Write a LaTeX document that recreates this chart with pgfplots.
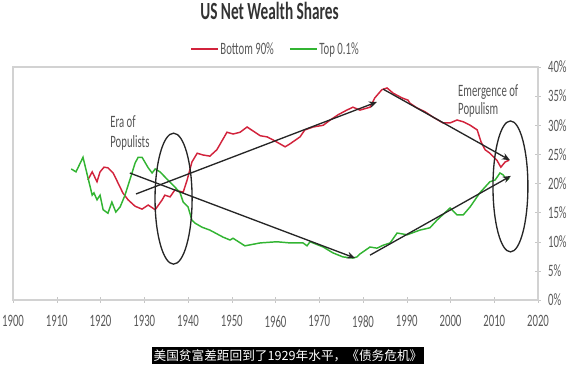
\documentclass[border=0pt]{standalone}
\usepackage{fontspec}
\setmainfont{Carlito}[FakeStretch=0.62]
\newfontfamily\cjk{Noto Sans CJK SC}
\usepackage{pgfplots}
\pgfplotsset{compat=1.18}
\usetikzlibrary{calc,arrows.meta}
\definecolor{lred}{RGB}{210,35,60}
\definecolor{lgreen}{RGB}{50,180,50}
\definecolor{annot}{RGB}{85,85,85}
\definecolor{tcol}{RGB}{89,89,89}
\begin{document}
\begin{tikzpicture}
\begin{axis}[
  name=ax, scale only axis, width=393.75pt, height=174.75pt,
  xmin=1900, xmax=2020, ymin=0, ymax=40,
  xtick={1900,1910,...,2020}, ytick={0,5,...,40},
  xtick pos=bottom, ytick pos=right, yticklabel pos=right,
  axis line style={draw=gray!35, line width=0.8pt},
  tick style={draw=gray!45}, tick align=center, major tick length=4pt,
  /pgf/number format/assume math mode=true,
  /pgf/number format/1000 sep={},
  ticklabel style={font=\fontsize{13}{13}\selectfont, text=tcol},
  yticklabel={\pgfmathprintnumber{\tick}\%},
  xticklabel style={yshift=-6pt},
  yticklabel style={xshift=2pt},
  title={US Net Wealth Shares},
  title style={font=\bfseries\fontsize{18.5}{18.5}\selectfont, text=black!80, at={(0.5,1)}, anchor=center, yshift=36pt, xshift=-4.5pt},
  legend columns=2,
  legend style={at={(0.5,1)}, anchor=south, yshift=4pt, draw=none, fill=none,
    font=\fontsize{13}{13}\selectfont, text=tcol, nodes={inner xsep=1.5pt},
    /tikz/every even column/.append style={column sep=10pt}},
  legend image code/.code={\draw[#1] (0pt,0pt) -- (20pt,0pt);},
  clip=false,
]
\addplot[lred, line width=1.1pt] coordinates {
(1917.1,20.6)(1918.1,22.0)(1919.2,20.3)(1919.9,22.0)(1920.8,22.8)(1921.7,22.7)(1922.9,21.8)(1924.0,20.1)(1925.1,18.4)(1926.3,17.2)(1927.9,16.1)(1929.5,15.6)(1930.9,16.3)(1932.5,15.5)(1934.1,17.2)(1934.7,18.0)(1935.9,17.7)(1937.0,18.9)(1938.9,18.5)(1939.8,20.6)(1940.9,23.7)(1942.1,25.2)(1943.4,24.9)(1945.0,24.7)(1946.6,25.8)(1948.9,28.8)(1950.3,28.5)(1951.9,28.8)(1953.5,29.7)(1954.9,29.0)(1956.5,28.2)(1958.1,28.0)(1959.4,27.5)(1962.2,26.3)(1963.3,26.8)(1965.6,28.0)(1966.7,29.2)(1968.6,29.7)(1970.9,30.0)(1972.5,30.9)(1974.3,31.8)(1976.3,32.6)(1977.7,33.1)(1979.3,32.6)(1981.6,33.1)(1982.7,34.7)(1984.3,36.1)(1985.5,36.4)(1986.9,35.5)(1988.9,34.7)(1990.3,34.3)(1990.7,33.8)(1992.3,33.0)(1994.2,32.3)(1996.0,31.4)(1998.3,30.4)(1999.9,30.4)(2001.5,30.9)(2002.9,30.6)(2004.5,30.0)(2006.1,29.2)(2007.0,27.1)(2007.9,25.8)(2009.0,25.2)(2010.6,24.0)(2011.5,22.8)(2012.5,23.7)(2013.4,24.0)
};
\addlegendentry{Bottom 90\%}
\addplot[lgreen, line width=1.1pt] coordinates {
(1913.3,22.5)(1914.4,22.0)(1916.0,24.5)(1917.1,21.1)(1918.1,18.0)(1918.5,18.4)(1919.2,17.2)(1919.9,18.0)(1920.6,15.5)(1921.7,14.9)(1922.6,16.8)(1923.5,15.1)(1924.5,16.0)(1925.6,18.0)(1927.2,21.8)(1927.9,23.5)(1928.6,24.5)(1929.5,24.5)(1930.9,22.7)(1931.8,21.8)(1932.5,22.5)(1933.6,22.0)(1935.4,20.6)(1937.0,19.4)(1938.2,18.4)(1938.9,16.8)(1940.0,16.0)(1940.9,13.7)(1941.6,13.2)(1943.2,12.5)(1945.0,12.0)(1948.0,10.8)(1949.6,10.3)(1950.3,10.6)(1953.0,9.3)(1956.5,9.8)(1960.3,10.0)(1963.3,9.8)(1966.3,9.8)(1967.2,9.3)(1967.9,10.0)(1970.9,9.1)(1973.1,8.1)(1975.4,7.4)(1977.7,7.2)(1978.6,7.4)(1979.3,7.9)(1981.6,9.1)(1983.2,8.9)(1984.6,9.4)(1986.2,9.8)(1987.8,11.5)(1990.1,11.2)(1993.0,12.0)(1995.3,12.4)(1996.9,13.7)(1999.9,15.8)(2001.5,14.6)(2002.9,14.6)(2004.5,16.0)(2006.7,18.4)(2009.0,20.3)(2010.2,20.6)(2011.3,21.8)(2012.0,21.5)(2012.9,20.6)(2013.4,20.9)
};
\addlegendentry{Top 0.1\%}
% annotations
\draw[black!85, line width=1pt, -{Stealth[length=6pt,width=5pt]}] (axis cs:1928.1,18.2) -- (axis cs:1983.2,34.0);
\draw[black!85, line width=1pt, -{Stealth[length=6pt,width=5pt]}] (axis cs:1926.7,21.8) -- (axis cs:1978.2,7.2);
\draw[black!85, line width=1pt, -{Stealth[length=6pt,width=5pt]}] (axis cs:1984.6,36.2) -- (axis cs:2013.6,24.0);
\draw[black!85, line width=1pt, -{Stealth[length=6pt,width=5pt]}] (axis cs:1981.6,7.7) -- (axis cs:2013.8,21.3);
\draw[black!85, line width=1pt] (axis cs:1936.7,17.4) ellipse [x radius=13.9pt, y radius=49.1pt];
\draw[black!85, line width=1pt] (axis cs:2013.7,19.5) ellipse [x radius=13.1pt, y radius=49.1pt];
\node[anchor=base west, inner sep=0pt, text=annot, font=\fontsize{13}{13}\selectfont] at (axis cs:1922.2,29.7) {Era of};
\node[anchor=base west, inner sep=0pt, text=annot, font=\fontsize{13}{13}\selectfont] at (axis cs:1922.2,26.1) {Populists};
\node[anchor=base west, inner sep=0pt, text=annot, font=\fontsize{13}{13}\selectfont] at (axis cs:2001.7,35.0) {Emergence of};
\node[anchor=base west, inner sep=0pt, text=annot, font=\fontsize{13}{13}\selectfont] at (axis cs:2001.7,31.9) {Populism};
\coordinate (SW) at (rel axis cs:0,0);
\coordinate (NE) at (rel axis cs:1,1);
\end{axis}
\node[fill=black, text=white, font=\cjk\fontsize{9.5}{9.5}\selectfont, minimum width=204pt, minimum height=12.75pt, inner sep=0pt] at ($(SW)+(206.25pt,-41.6pt)$) {美国贫富差距回到了1929年水平，《债务危机》};
\pgfresetboundingbox
\path ($(SW)+(-9.75pt,-51.75pt)$) rectangle ($(NE)+(29.25pt,50.25pt)$);
\end{tikzpicture}
\end{document}
